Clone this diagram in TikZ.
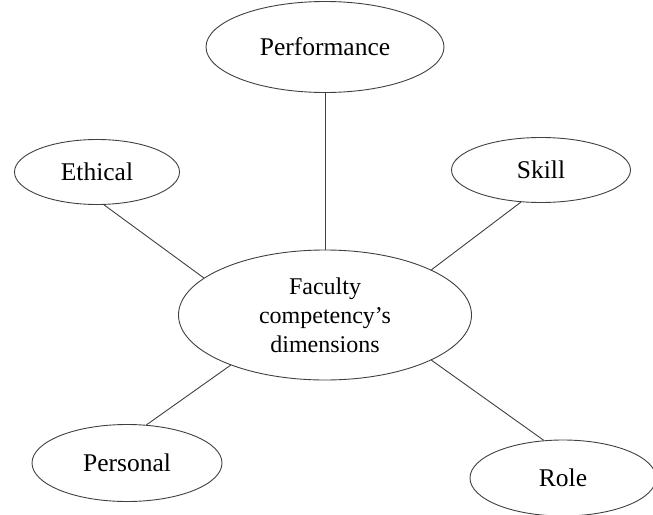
\documentclass[tikz,border=0pt]{standalone}
\usepackage{fontspec}
\setmainfont{Liberation Serif}
\usetikzlibrary{shapes.geometric}
\begin{document}
\begin{tikzpicture}[x=1pt,y=-1pt,
    dim/.style={ellipse, draw=black!75, line width=0.9pt, inner sep=0pt,
        font=\fontsize{25.5}{30}\selectfont},
    link/.style={draw=black!75, line width=0.9pt}]
    \useasboundingbox (0,0) rectangle (653,514);
    % Draw centre
    \node[dim, minimum width=293pt, minimum height=130pt, align=center,
        font=\fontsize{24}{29}\selectfont] (faculty) at (325,315)
        {Faculty\\competency's\\dimensions};
    % Draw dimensions
    \node[dim, minimum width=238pt, minimum height=91pt] (performance) at (325,47) {Performance};
    \node[dim, minimum width=165pt, minimum height=65pt] (ethical) at (97,172) {Ethical};
    \node[dim, minimum width=179pt, minimum height=65pt] (skill) at (541,170) {Skill};
    \node[dim, minimum width=190pt, minimum height=77pt] (personal) at (127,463) {Personal};
    \node[dim, minimum width=186pt, minimum height=76pt] (role) at (563,478) {Role};
    % Connect dimensions to centre
    \draw[link] (performance) -- (faculty);
    \foreach \d/\a/\b in {ethical/-78/163, skill/-122/23, personal/63/-152, role/117/-23} {
        \draw[link] (\d.\a) -- (faculty.\b);
    }
\end{tikzpicture}
\end{document}
